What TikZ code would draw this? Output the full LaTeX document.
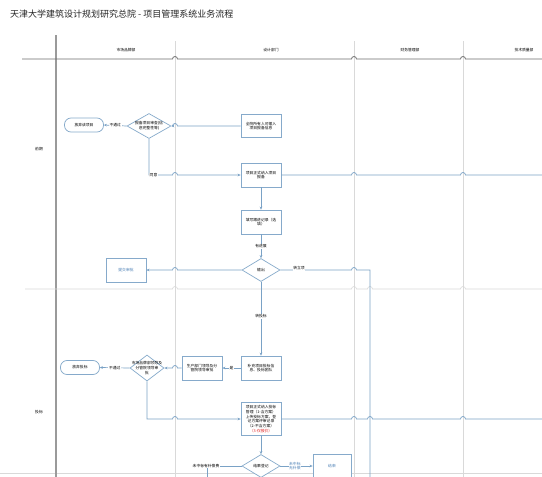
\documentclass[tikz,border=0pt]{standalone}
\usepackage{fontspec}
\setmainfont{Noto Sans CJK SC}
\usetikzlibrary{shapes.geometric,arrows.meta}
\definecolor{conncol}{HTML}{7AA2C6}
\definecolor{boxcol}{HTML}{86AACB}
\definecolor{lanecol}{HTML}{D9D9D9}
\definecolor{headcol}{HTML}{6E6E6E}
\definecolor{thickcol}{HTML}{9A9A9A}
\definecolor{bluetext}{HTML}{4A7FB5}
\definecolor{redtext}{HTML}{E02020}
\begin{document}
\begin{tikzpicture}[x=1pt,y=-1pt,
  small/.style={font=\fontsize{3.8}{4.7}\selectfont},
  box/.style={draw=boxcol, line width=0.7pt, fill=white, minimum width=40pt, minimum height=24pt, inner sep=0pt, align=center, small},
  pill/.style={draw=boxcol, line width=0.7pt, fill=white, rounded corners=6.5pt, minimum width=39pt, minimum height=14pt, inner sep=0pt, small},
  dia/.style={draw=boxcol, line width=0.7pt, fill=white, diamond, inner sep=0pt},
  dtext/.style={align=center, small, inner sep=0pt},
  cn/.style={draw=conncol, line width=0.7pt},
  cna/.style={cn, -{Stealth[length=3pt,width=2.6pt]}},
  lbl/.style={small, fill=white, inner sep=0.6pt},
  lanel/.style={draw=lanecol, line width=0.6pt},
  hdr/.style={font=\fontsize{3.8}{4.7}\selectfont}]
\useasboundingbox (0,0) rectangle (542,477);
\fill[white] (0,0) rectangle (542,477);

% title
\node[anchor=west, font=\fontsize{9}{10}\selectfont, text=black!85, inner sep=0pt] (title) at (10,14) {天津大学建筑设计规划研究总院 - 项目管理系统业务流程};

% lanes
\draw[lanel] (175,41) -- (175,477);
\draw[lanel] (354,41) -- (354,477);
\draw[lanel] (463,41) -- (463,477);
\draw[lanel] (0,473) -- (542,473);
\draw[draw=thickcol, line width=1.6pt] (56,35) -- (56,477);
\draw[draw=headcol, line width=0.8pt] (22,59) -- (172.5,59) arc[start angle=180,end angle=0,radius=2.5pt]
  -- (351.5,59) arc[start angle=180,end angle=0,radius=2.5pt]
  -- (460.5,59) arc[start angle=180,end angle=0,radius=2.5pt] -- (542,59);
\draw[lanel] (25,289) -- (172.5,289) arc[start angle=180,end angle=0,radius=2.5pt]
  -- (351.5,289) arc[start angle=180,end angle=0,radius=2.5pt]
  -- (367.5,289) arc[start angle=180,end angle=0,radius=2.5pt]
  -- (460.5,289) arc[start angle=180,end angle=0,radius=2.5pt] -- (542,289);

\node[hdr] (h1) at (126,50) {市场品牌部};
\node[hdr] (h2) at (271,50) {设计部门};
\node[hdr] (h3) at (410,50) {财务管理部};
\node[hdr] (h4) at (524,50) {技术质量部};
\node[hdr] (p1) at (39,149) {前期};
\node[hdr] (p2) at (39,412) {投标};

% nodes phase 1
\node[pill] (r1) at (84,125) {放弃该项目};
\node[dia, minimum width=44pt, minimum height=25pt] (d1) at (149,126) {};
\node[dtext] at (d1) {报备项目审查(信\\息完整性等)};
\node[box, minimum height=23pt] (b1) at (261,126) {全院所有人可输入\\项目报备信息};
\node[box] (b2) at (261,175) {项目正式纳入项目\\报备};
\node[box] (b3) at (261,222) {填写跟进记录（选\\填）};
\node[dia, minimum width=38pt, minimum height=23pt] (d3) at (261,270) {};
\node[dtext] at (d3) {输出};
\node[box, text=bluetext] (b4) at (126,270) {提交审批};

% nodes phase 2
\node[box] (b5) at (261,368) {补充项目投标信\\息、投标团队};
\node[box] (b7) at (202,368) {生产部门领导及分\\管院领导审批};
\node[dia, minimum width=34pt, minimum height=26pt] (d2) at (147,368) {};
\node[dtext] at (d2) {市场品牌部领导及\\分管院领导审\\批};
\node[pill] (r2) at (80,367.5) {放弃投标};
\node[box, minimum height=33pt] (b6) at (261,419) {项目正式纳入投标\\管理（1-含方案）\\上传投标方案，登\\记方案评审记录\\（2-不含方案）\\\textcolor{redtext}{（3-仅报价）}};
\node[dia, minimum width=38pt, minimum height=23pt] (d4) at (261,466) {};
\node[dtext] at (d4) {结果登记};
\node[box, minimum width=38pt, text=bluetext] (b8) at (332,466) {结束};

% coordinates for free ends
\coordinate (e1) at (542,175);
\coordinate (e2) at (370,477);
\coordinate (e3) at (542,419);
\coordinate (e4) at (207,477);

% connectors phase 1
\draw[cna] (d1.west) -- node[lbl] {不通过} (r1.east);
\draw[cna] (b1.west) -- (177.5,126) arc[start angle=0,end angle=180,radius=2.5pt] -- (d1.east);
\draw[cna] (d1.south) -- (149,175) -- (172.5,175) arc[start angle=180,end angle=0,radius=2.5pt] -- (b2.west);
\node[lbl] at (153.5,175) {同意};
\draw[cn] (b2.east) -- (351.5,175) arc[start angle=180,end angle=0,radius=2.5pt]
  -- (460.5,175) arc[start angle=180,end angle=0,radius=2.5pt] -- (e1);
\draw[cna] (b2.south) -- (b3.north);
\draw[cna] (b3.south) -- node[lbl] {有进展} (d3.north);
\draw[cna] (d3.west) -- (177.5,270) arc[start angle=0,end angle=180,radius=2.5pt] -- (b4.east);
\draw[cn] (d3.east) -- (351.5,270) arc[start angle=180,end angle=0,radius=2.5pt] -- (370,270) -- (e2);
\node[lbl] at (299,268.5) {转立项};

% connectors phase 2
\draw[cna] (d3.south) -- node[lbl, pos=0.47] {转投标} (b5.north);
\draw[cna] (b5.west) -- node[lbl] {是} (b7.east);
\draw[cna] (b7.west) -- (177.5,368) arc[start angle=0,end angle=180,radius=2.5pt] -- (d2.east);
\draw[cna] (d2.west) -- node[lbl] {不通过} (r2.east);
\draw[cna] (d2.south) -- (147,419) -- (172.5,419) arc[start angle=180,end angle=0,radius=2.5pt] -- (b6.west);
\draw[cn] (b6.east) -- (351.5,419) arc[start angle=180,end angle=0,radius=2.5pt]
  -- (367.5,419) arc[start angle=180,end angle=0,radius=2.5pt]
  -- (460.5,419) arc[start angle=180,end angle=0,radius=2.5pt] -- (e3);
\draw[cna] (b6.south) -- (d4.north);
\draw[cn] (d4.west) -- (207,466) -- (e4);
\node[lbl] at (206,466) {未中标有补偿费};
\draw[cna] (d4.east) -- node[lbl, align=center, text=bluetext, pos=0.45] {未中标\\无补偿} (b8.west);
\end{tikzpicture}
\end{document}
